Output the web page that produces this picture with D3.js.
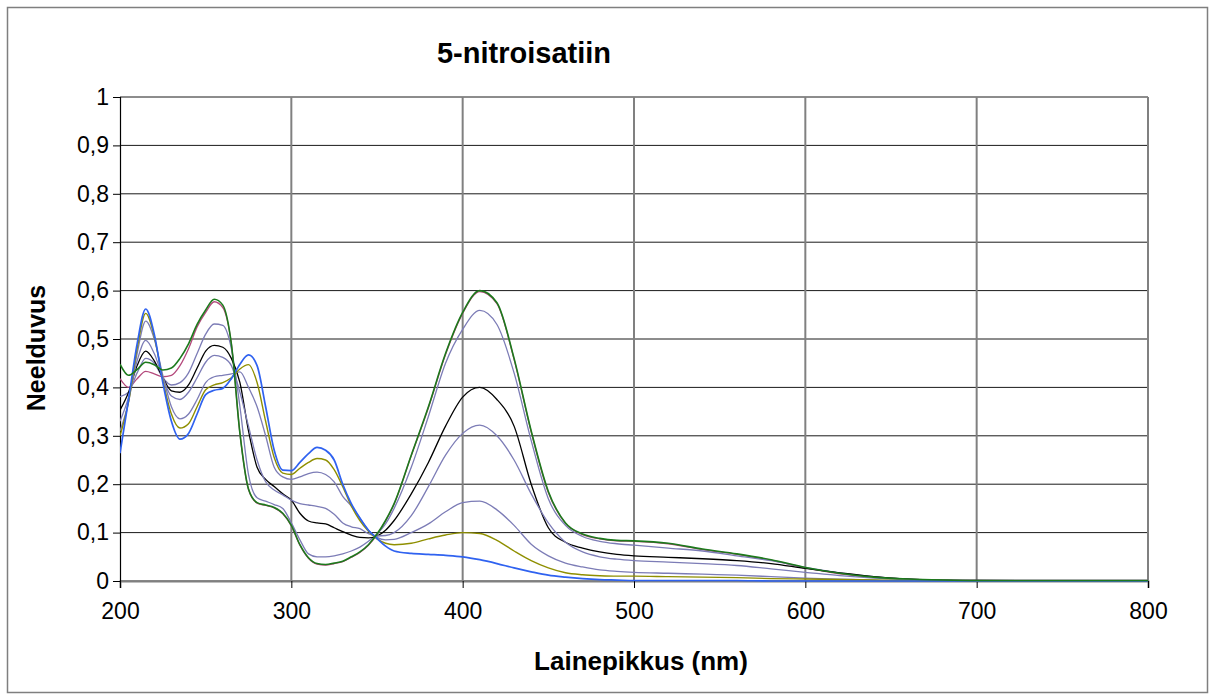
<!DOCTYPE html>
<html>
<head>
<meta charset="utf-8">
<script src="https://cdn.jsdelivr.net/npm/d3@7"></script>
<style>
  html, body { margin: 0; padding: 0; background: #fff; }
  svg { display: block; font-family: "Liberation Sans", Arial, sans-serif; }
</style>
</head>
<body>
<svg id="chart" width="1215" height="700"></svg>
<script>
// Wavelengths (nm) at which the absorbance spectra are sampled
const wavelengths = [200,205,210,215,220,225,230,235,240,245,250,255,260,265,270,275,280,285,290,295,300,305,310,315,320,325,330,335,340,345,350,355,360,370,380,390,400,410,420,430,440,450,460,470,480,490,500,520,540,560,580,600,620,640,660,680,700,750,800];

// Absorbance series (Neelduvus)
const seriesGreen = [0.448,0.425,0.437,0.452,0.447,0.436,0.440,0.460,0.490,0.530,0.560,0.582,0.570,0.490,0.305,0.190,0.162,0.157,0.152,0.140,0.115,0.075,0.048,0.036,0.034,0.037,0.041,0.050,0.060,0.075,0.097,0.125,0.160,0.260,0.360,0.470,0.555,0.600,0.575,0.460,0.310,0.185,0.120,0.097,0.088,0.084,0.083,0.078,0.066,0.056,0.044,0.028,0.016,0.008,0.004,0.002,0.001,0.001,0.001];
const seriesMagenta = [0.418,0.400,0.418,0.433,0.428,0.422,0.425,0.445,0.480,0.525,0.555,0.577,0.565,0.490,0.305,0.189,0.161,0.156,0.151,0.139,0.114,0.074,0.047,0.035,0.033,0.036,0.040,0.049,0.059,0.074,0.096,0.124,0.159,0.259,0.358,0.468,0.553,0.598,0.573,0.458,0.308,0.183,0.119,0.096,0.087,0.083,0.082,0.077,0.065,0.055,0.043,0.027,0.015,0.008,0.004,0.002,0.001,0.001,0.001];
const seriesLavA = [0.381,0.390,0.430,0.460,0.450,0.420,0.405,0.410,0.430,0.470,0.510,0.531,0.528,0.480,0.360,0.220,0.172,0.165,0.158,0.150,0.120,0.085,0.056,0.050,0.050,0.052,0.056,0.062,0.070,0.082,0.097,0.118,0.150,0.235,0.340,0.450,0.520,0.559,0.530,0.430,0.290,0.170,0.115,0.092,0.082,0.077,0.074,0.068,0.062,0.052,0.042,0.028,0.017,0.009,0.004,0.002,0.001,0.001,0.001];
const seriesBlack = [0.353,0.390,0.445,0.475,0.455,0.420,0.393,0.390,0.405,0.440,0.475,0.487,0.483,0.460,0.410,0.310,0.235,0.210,0.195,0.180,0.167,0.140,0.124,0.120,0.118,0.110,0.102,0.095,0.090,0.089,0.093,0.105,0.125,0.180,0.245,0.320,0.380,0.400,0.375,0.320,0.200,0.110,0.080,0.068,0.060,0.055,0.052,0.049,0.046,0.042,0.036,0.026,0.017,0.009,0.004,0.002,0.001,0.000,0.000];
const seriesLavB = [0.330,0.380,0.455,0.497,0.470,0.420,0.382,0.375,0.390,0.420,0.452,0.466,0.462,0.445,0.390,0.320,0.250,0.205,0.188,0.178,0.167,0.160,0.157,0.154,0.150,0.138,0.120,0.112,0.108,0.098,0.093,0.094,0.100,0.135,0.195,0.260,0.305,0.322,0.300,0.250,0.180,0.120,0.080,0.060,0.050,0.045,0.042,0.039,0.036,0.032,0.025,0.018,0.011,0.006,0.003,0.001,0.000,0.000,0.000];
const seriesLavC = [0.310,0.370,0.470,0.537,0.500,0.425,0.360,0.335,0.345,0.375,0.410,0.422,0.425,0.428,0.432,0.400,0.360,0.300,0.235,0.215,0.210,0.215,0.222,0.225,0.220,0.205,0.175,0.155,0.130,0.105,0.090,0.085,0.086,0.100,0.118,0.143,0.162,0.165,0.147,0.115,0.076,0.052,0.037,0.029,0.023,0.020,0.018,0.016,0.014,0.012,0.009,0.006,0.004,0.002,0.001,0.001,0.000,0.000,0.000];
const seriesOlive = [0.300,0.370,0.480,0.553,0.505,0.415,0.345,0.316,0.325,0.360,0.395,0.405,0.410,0.420,0.438,0.447,0.410,0.330,0.255,0.223,0.220,0.233,0.245,0.253,0.250,0.230,0.195,0.155,0.125,0.103,0.087,0.078,0.075,0.078,0.087,0.095,0.100,0.098,0.084,0.062,0.042,0.027,0.017,0.013,0.011,0.010,0.010,0.009,0.008,0.007,0.005,0.004,0.003,0.002,0.001,0.001,0.000,0.000,0.000];
const seriesBlue = [0.264,0.375,0.490,0.562,0.510,0.410,0.330,0.293,0.305,0.345,0.385,0.394,0.398,0.418,0.448,0.467,0.445,0.360,0.270,0.229,0.228,0.245,0.263,0.276,0.270,0.250,0.200,0.160,0.130,0.105,0.088,0.072,0.062,0.057,0.055,0.053,0.050,0.044,0.036,0.027,0.019,0.012,0.008,0.005,0.003,0.002,0.001,0.001,0.001,0.001,0.000,0.000,0.000,0.000,0.000,0.000,0.000,0.000,0.000];

// Axis tick values
const xTicks = [200,300,400,500,600,700,800];
const yTicks = [0,0.1,0.2,0.3,0.4,0.5,0.6,0.7,0.8,0.9,1];

const title = "5-nitroisatiin";
const xTitle = "Lainepikkus (nm)";
const yTitle = "Neelduvus";

// Drawing order and styling of the spectra
const spectra = [
  { values: seriesMagenta, color: "#b4497c", width: 1.3 },
  { values: seriesLavA,    color: "#7c7cb6", width: 1.3 },
  { values: seriesBlack,   color: "#000000", width: 1.3 },
  { values: seriesLavB,    color: "#7c7cb6", width: 1.3 },
  { values: seriesLavC,    color: "#7c7cb6", width: 1.3 },
  { values: seriesOlive,   color: "#8f8f00", width: 1.4 },
  { values: seriesBlue,    color: "#2f62f0", width: 1.7 },
  { values: seriesGreen,   color: "#1c7a1c", width: 1.6 }
];

const svg = d3.select("#chart");
const W = 1215, H = 700;
const plot = { left: 120, right: 1148, top: 97, bottom: 581 };
const font = "Liberation Sans, Arial, sans-serif";

// Outer frame
svg.append("rect")
  .attr("x", 7.5).attr("y", 7.5)
  .attr("width", W - 15).attr("height", H - 15)
  .attr("fill", "#fff").attr("stroke", "#7f7f7f").attr("stroke-width", 1.5);

const x = d3.scaleLinear().domain([200, 800]).range([plot.left, plot.right]);
const y = d3.scaleLinear().domain([0, 1]).range([plot.bottom, plot.top]);

// Gridlines
const grid = svg.append("g");
grid.selectAll(".hgrid").data(yTicks).join("line")
  .attr("x1", plot.left).attr("x2", plot.right)
  .attr("y1", d => y(d)).attr("y2", d => y(d))
  .attr("stroke", "#1a1a1a").attr("stroke-width", 1);
grid.selectAll(".vgrid").data(xTicks.slice(1)).join("line")
  .attr("x1", d => x(d)).attr("x2", d => x(d))
  .attr("y1", plot.top).attr("y2", plot.bottom)
  .attr("stroke", "#808080").attr("stroke-width", 2);

// Axes
const xAxis = d3.axisBottom(x).tickValues(xTicks).tickSize(7).tickPadding(15).tickFormat(d3.format("d"));
const yAxis = d3.axisLeft(y).tickValues(yTicks).tickSize(7).tickPadding(4)
  .tickFormat(d => d === 0 ? "0" : d === 1 ? "1" : String(d).replace(".", ","));

const gx = svg.append("g").attr("transform", `translate(0,${plot.bottom})`).call(xAxis);
gx.select(".domain").attr("stroke", "#808080").attr("stroke-width", 2);
gx.selectAll(".tick line").attr("stroke", "#000");
gx.selectAll("text").attr("font-size", 23).attr("fill", "#000").attr("font-family", font);

const gy = svg.append("g").attr("transform", `translate(${plot.left},0)`).call(yAxis);
gy.select(".domain").attr("stroke", "#000").attr("stroke-width", 1.2);
gy.selectAll(".tick line").attr("stroke", "#000");
gy.selectAll("text").attr("font-size", 23).attr("fill", "#000").attr("font-family", font);

// Spectra
svg.append("clipPath").attr("id", "plotclip").append("rect")
  .attr("x", plot.left).attr("y", plot.top - 2)
  .attr("width", plot.right - plot.left + 2).attr("height", plot.bottom - plot.top + 4);

const line = d3.line()
  .x((d, i) => x(wavelengths[i]))
  .y(d => y(d))
  .curve(d3.curveMonotoneX);

svg.append("g").attr("clip-path", "url(#plotclip)")
  .selectAll("path").data(spectra).join("path")
  .attr("d", s => line(s.values))
  .attr("fill", "none")
  .attr("stroke", s => s.color)
  .attr("stroke-width", s => s.width)
  .attr("stroke-linejoin", "round");

// Titles
svg.append("text").attr("x", 524).attr("y", 63)
  .attr("text-anchor", "middle").attr("font-weight", "bold").attr("font-size", 29)
  .attr("font-family", font).text(title);
svg.append("text").attr("x", 641).attr("y", 670)
  .attr("text-anchor", "middle").attr("font-weight", "bold").attr("font-size", 26)
  .attr("font-family", font).text(xTitle);
svg.append("text").attr("transform", "translate(45,348) rotate(-90)")
  .attr("text-anchor", "middle").attr("font-weight", "bold").attr("font-size", 25)
  .attr("font-family", font).text(yTitle);
</script>
</body>
</html>
